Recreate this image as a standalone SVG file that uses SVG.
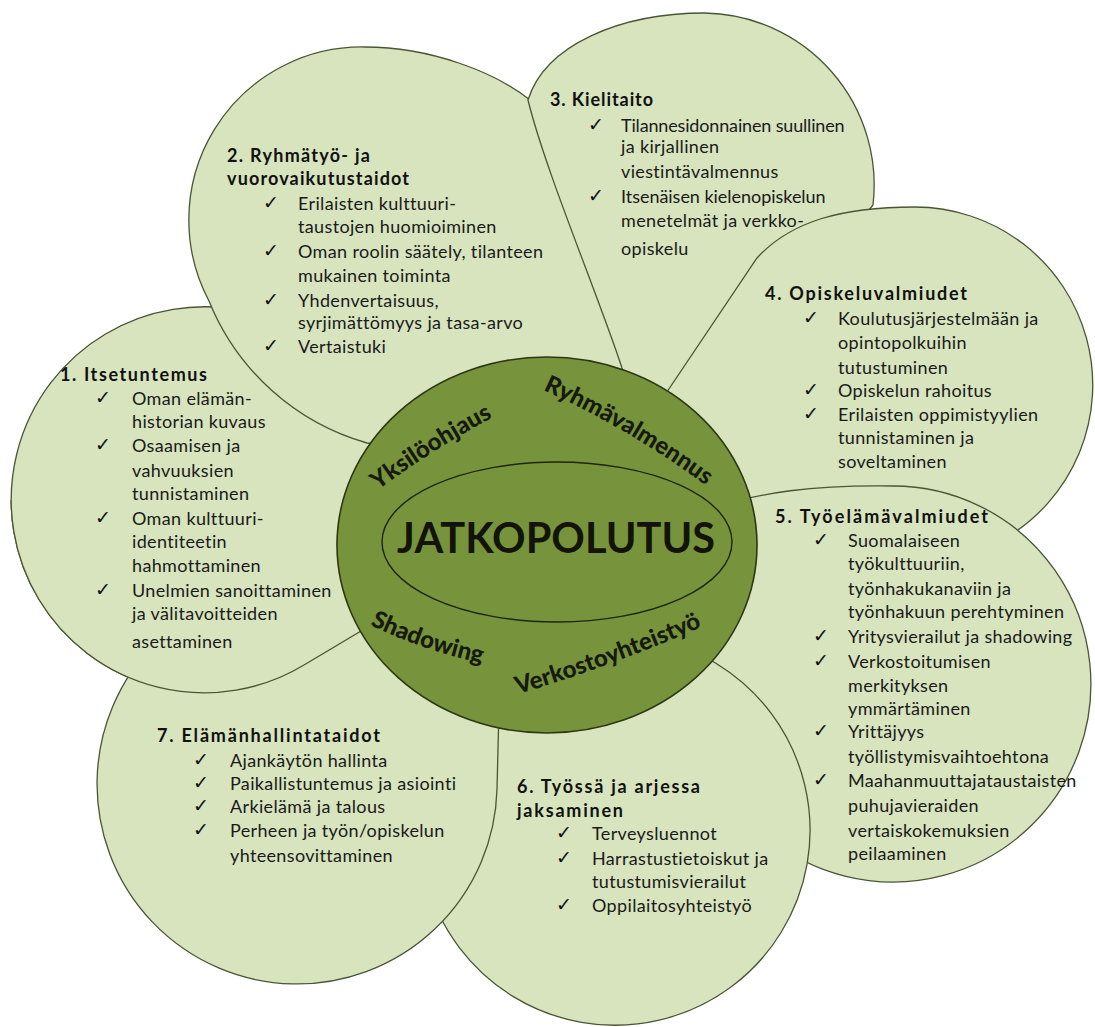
<svg xmlns="http://www.w3.org/2000/svg" width="1095" height="1027" viewBox="0 0 1095 1027">
<defs>
<style>
.petal{fill:#d7e4bd;stroke:#4a5535;stroke-width:1.3}
.t{font-family:Lato,"Liberation Sans",sans-serif;font-size:18px;letter-spacing:0.35px;fill:#1a1a1a}
.h{font-family:Lato,"Liberation Sans",sans-serif;font-size:18px;font-weight:bold;fill:#111}
.ck{font-family:"DejaVu Sans",sans-serif;font-size:19px;fill:#111}
.arc{font-family:Lato,"Liberation Sans",sans-serif;font-size:24px;font-weight:900;fill:#161a0c}
</style>
<clipPath id="lowclip"><rect x="0" y="500" width="480" height="527"/></clipPath>
<path id="p1" d="M 370,401 L 470,566 L 304,665 A 193 193 0 1 1 370,401 Z"/>
<path id="pY" d="M 378,490 Q 441,443 515,406"/>
<path id="pR" d="M 543,390 Q 633,430 720,496"/>
<path id="pS" d="M 370,625 Q 425,652 495,666"/>
<path id="pV" d="M 518,694 Q 612,667 722,618"/>
</defs>
<rect width="1095" height="1027" fill="#fff"/>
<g id="petal1"><use href="#p1" class="petal"/></g>
<g id="petal2"><path class="petal" d="M 650,470 L 367,443 A 242 242 0 0 1 209,301 A 173 173 0 0 1 365,47 C 430,47 495,72 530,100 L 640,300 Z"/></g>
<g id="petal3"><path class="petal" d="M 650,440 L 622,368 C 600,300 545,170 528,100 C 545,45 620,13 705,13 A 172 172 0 0 1 873,205 L 800,300 L 690,440 Z"/></g>
<g id="petal4"><path class="petal" d="M 640,432 L 757,258 C 790,222 840,207 915,207 A 178 178 0 0 1 1004,539 L 850,560 L 700,480 Z"/></g>
<g id="petal5"><path class="petal" d="M 690,515 C 760,490 820,485 893,486 A 198 198 0 1 1 766,836 L 700,700 Z"/></g>
<g id="petal6"><path class="petal" d="M 551,561 L 717,664 A 195 195 0 1 1 449,728 Z"/></g>
<g id="petal7"><path class="petal" d="M 502,588 L 497,789 A 200 200 0 1 1 301,584 Z"/></g>
<g id="petal1-front" clip-path="url(#lowclip)"><use href="#p1" class="petal"/></g>
<g id="center">
<ellipse cx="547" cy="545" rx="210" ry="188" fill="#77933c" stroke="#2c3814" stroke-width="1.6"/>
<ellipse cx="557" cy="542" rx="175" ry="80" fill="none" stroke="#1e260c" stroke-width="1.4"/>
<text x="556" y="553" text-anchor="middle" textLength="318" lengthAdjust="spacingAndGlyphs" style="font-family:Lato,'Liberation Sans',sans-serif;font-size:42px;font-weight:bold;fill:#121408">JATKOPOLUTUS</text>
<text class="arc"><textPath href="#pY">Yksilöohjaus</textPath></text>
<text class="arc"><textPath href="#pR">Ryhmävalmennus</textPath></text>
<text class="arc"><textPath href="#pS">Shadowing</textPath></text>
<text class="arc"><textPath href="#pV">Verkostoyhteistyö</textPath></text>
</g>
<g id="text1">
<text class="h" x="60" y="381" textLength="147" lengthAdjust="spacing">1. Itsetuntemus</text>
<text class="ck" x="95" y="404">✓</text><text class="t" x="132" y="405">Oman elämän-</text>
<text class="t" x="132" y="428">historian kuvaus</text>
<text class="ck" x="95" y="451">✓</text><text class="t" x="132" y="452">Osaamisen ja</text>
<text class="t" x="132" y="477">vahvuuksien</text>
<text class="t" x="132" y="500">tunnistaminen</text>
<text class="ck" x="95" y="524">✓</text><text class="t" x="132" y="525">Oman kulttuuri-</text>
<text class="t" x="132" y="548">identiteetin</text>
<text class="t" x="132" y="572">hahmottaminen</text>
<text class="ck" x="95" y="596">✓</text><text class="t" x="132" y="597">Unelmien sanoittaminen</text>
<text class="t" x="132" y="620">ja välitavoitteiden</text>
<text class="t" x="132" y="648">asettaminen</text>
</g>
<g id="text2">
<text class="h" x="227" y="162" textLength="143" lengthAdjust="spacing">2. Ryhmätyö- ja</text>
<text class="h" x="227" y="185" textLength="182" lengthAdjust="spacing">vuorovaikutustaidot</text>
<text class="ck" x="263" y="209">✓</text><text class="t" x="298" y="210">Erilaisten kulttuuri-</text>
<text class="t" x="298" y="233">taustojen huomioiminen</text>
<text class="ck" x="263" y="257">✓</text><text class="t" x="298" y="258">Oman roolin säätely, tilanteen</text>
<text class="t" x="298" y="282">mukainen toiminta</text>
<text class="ck" x="263" y="306">✓</text><text class="t" x="298" y="307">Yhdenvertaisuus,</text>
<text class="t" x="298" y="329">syrjimättömyys ja tasa-arvo</text>
<text class="ck" x="263" y="352">✓</text><text class="t" x="298" y="353">Vertaistuki</text>
</g>
<g id="text3">
<text class="h" x="550" y="106" textLength="103" lengthAdjust="spacing">3. Kielitaito</text>
<text class="ck" x="588" y="131">✓</text><text class="t" x="621" y="132" textLength="224" lengthAdjust="spacing">Tilannesidonnainen suullinen</text>
<text class="t" x="621" y="153">ja kirjallinen</text>
<text class="t" x="621" y="178">viestintävalmennus</text>
<text class="ck" x="588" y="202">✓</text><text class="t" x="621" y="203" textLength="205" lengthAdjust="spacing">Itsenäisen kielenopiskelun</text>
<text class="t" x="621" y="227">menetelmät ja verkko-</text>
<text class="t" x="621" y="255">opiskelu</text>
</g>
<g id="text4">
<text class="h" x="765" y="300" textLength="202" lengthAdjust="spacing">4. Opiskeluvalmiudet</text>
<text class="ck" x="803" y="324">✓</text><text class="t" x="838" y="325">Koulutusjärjestelmään ja</text>
<text class="t" x="838" y="349">opintopolkuihin</text>
<text class="t" x="838" y="374">tutustuminen</text>
<text class="ck" x="803" y="396">✓</text><text class="t" x="838" y="397">Opiskelun rahoitus</text>
<text class="ck" x="803" y="420">✓</text><text class="t" x="838" y="421">Erilaisten oppimistyylien</text>
<text class="t" x="838" y="444">tunnistaminen ja</text>
<text class="t" x="838" y="468">soveltaminen</text>
</g>
<g id="text5">
<text class="h" x="775" y="523" textLength="213" lengthAdjust="spacing">5. Työelämävalmiudet</text>
<text class="ck" x="813" y="546">✓</text><text class="t" x="848" y="547">Suomalaiseen</text>
<text class="t" x="848" y="570">työkulttuuriin,</text>
<text class="t" x="848" y="595">työnhakukanaviin ja</text>
<text class="t" x="848" y="618">työnhakuun perehtyminen</text>
<text class="ck" x="813" y="642">✓</text><text class="t" x="848" y="643">Yritysvierailut ja shadowing</text>
<text class="ck" x="813" y="667">✓</text><text class="t" x="848" y="668">Verkostoitumisen</text>
<text class="t" x="848" y="692">merkityksen</text>
<text class="t" x="848" y="715">ymmärtäminen</text>
<text class="ck" x="813" y="737">✓</text><text class="t" x="848" y="738">Yrittäjyys</text>
<text class="t" x="848" y="763">työllistymisvaihtoehtona</text>
<text class="ck" x="813" y="786">✓</text><text class="t" x="848" y="787">Maahanmuuttajataustaisten</text>
<text class="t" x="848" y="812">puhujavieraiden</text>
<text class="t" x="848" y="837">vertaiskokemuksien</text>
<text class="t" x="848" y="860">peilaaminen</text>
</g>
<g id="text6">
<text class="h" x="517" y="793" textLength="183" lengthAdjust="spacing">6. Työssä ja arjessa</text>
<text class="h" x="517" y="817" textLength="106" lengthAdjust="spacing">jaksaminen</text>
<text class="ck" x="556" y="839">✓</text><text class="t" x="592" y="840">Terveysluennot</text>
<text class="ck" x="556" y="864">✓</text><text class="t" x="592" y="865">Harrastustietoiskut ja</text>
<text class="t" x="592" y="888">tutustumisvierailut</text>
<text class="ck" x="556" y="911">✓</text><text class="t" x="592" y="912">Oppilaitosyhteistyö</text>
</g>
<g id="text7">
<text class="h" x="157" y="742" textLength="223" lengthAdjust="spacing">7. Elämänhallintataidot</text>
<text class="ck" x="193" y="766">✓</text><text class="t" x="230" y="767">Ajankäytön hallinta</text>
<text class="ck" x="193" y="789">✓</text><text class="t" x="230" y="790">Paikallistuntemus ja asiointi</text>
<text class="ck" x="193" y="812">✓</text><text class="t" x="230" y="813">Arkielämä ja talous</text>
<text class="ck" x="193" y="836">✓</text><text class="t" x="230" y="837">Perheen ja työn/opiskelun</text>
<text class="t" x="230" y="862">yhteensovittaminen</text>
</g>
</svg>
